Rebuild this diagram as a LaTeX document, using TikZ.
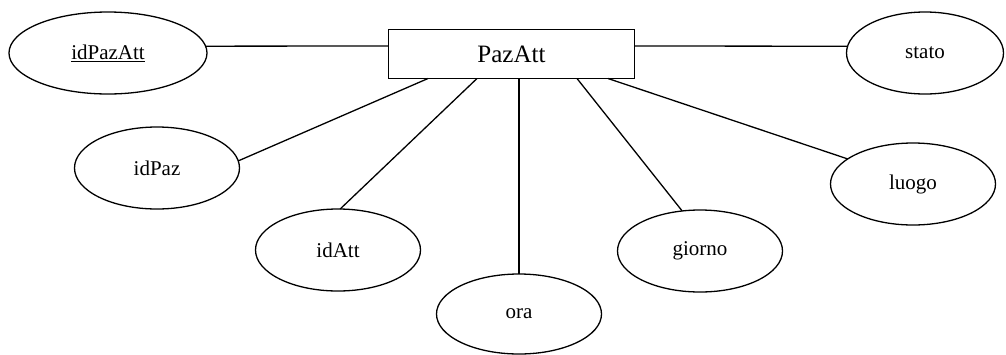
\documentclass[tikz,border=0pt]{standalone}
\usepackage{fontspec}
\setmainfont{Liberation Serif}
\usetikzlibrary{shapes.geometric}
\begin{document}
\begin{tikzpicture}[x=1pt,y=-1pt,
  every node/.style={inner sep=0pt,outer sep=0pt},
  entity/.style={draw,line width=1.3pt,rectangle,minimum width=246pt,minimum height=49pt,
    font=\fontsize{25}{30}\selectfont},
  attr/.style={draw,line width=1.3pt,ellipse,minimum width=165pt,minimum height=82pt,
    font=\fontsize{21}{25}\selectfont},
  link/.style={line width=1.3pt}]
\useasboundingbox (0,0) rectangle (1006,354);
\fill[white] (0,0) rectangle (1006,354);

% entity
\node[entity] (pazatt) at (511.5,54) {PazAtt};

% attributes
\node[attr,minimum width=198pt] (idpazatt) at (108,53) {\underline{idPazAtt}};
\node[attr,minimum width=157pt] (stato) at (925,53) {stato};
\node[attr] (idpaz) at (157,168) {idPaz};
\node[attr] (idatt) at (338,250) {idAtt};
\node[attr,minimum height=80pt] (ora) at (519,314) {ora};
\node[attr] (giorno) at (700,251) {giorno};
\node[attr] (luogo) at (913,184) {luogo};

% connectors
\draw[link] ([yshift=8pt]pazatt.west) -- (idpazatt.4);
\draw[link] ([yshift=8pt]pazatt.east) -- (stato.175);
\draw[link] ([xshift=-83.5pt]pazatt.south) -- (idpaz.5);
\draw[link] ([xshift=-34.5pt]pazatt.south) -- (idatt.87);
\draw[link] ([xshift=7.5pt]pazatt.south) -- (ora.90);
\draw[link] ([xshift=65.5pt]pazatt.south) -- (giorno.114);
\draw[link] ([xshift=96.5pt]pazatt.south) -- (luogo.159);
\end{tikzpicture}
\end{document}
